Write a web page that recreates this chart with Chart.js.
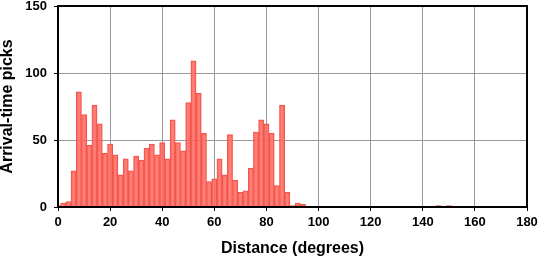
<!DOCTYPE html>
<html><head><meta charset="utf-8">
<script src="https://cdn.jsdelivr.net/npm/chart.js@4.4.1/dist/chart.umd.min.js"></script>
<style>html,body{margin:0;padding:0;background:#fff}#wrap{width:539px;height:258px}</style>
</head><body><div id="wrap"><canvas id="c" width="539" height="258"></canvas></div>
<script>
// bin centres (degrees, 2-degree bins) and arrival-time pick counts
const binCenters = [0,2,4,6,8,10,12,14,16,18,20,22,24,26,28,30,32,34,36,38,40,42,44,46,48,
  50,52,54,56,58,60,62,64,66,68,70,72,74,76,78,80,82,84,86,88,90,92,94,146,150];
const counts = [1,3,4,27,86,69,46,76,62,40,47,39,24,36,27,38,35,44,47,39,48,36,65,48,42,
  78,109,85,55,19,21,36,24,54,20,11,12,29,56,65,62,55,16,76,11,1,3,2,1,1];
const xTickValues = [0,20,40,60,80,100,120,140,160,180];
const yTickValues = [0,50,100,150];
const xTitle = 'Distance (degrees)';
const yTitle = 'Arrival-time picks';

const FONT = "'Liberation Sans', Arial, Helvetica, sans-serif";
const points = binCenters.map((c, i) => ({x: c, y: counts[i]}));

const framePlugin = {
  id: 'frame',
  afterDraw(chart) {
    const a = chart.chartArea, ctx = chart.ctx;
    ctx.save();
    ctx.strokeStyle = '#000';
    ctx.lineWidth = 2;
    ctx.strokeRect(a.left, a.top, a.right - a.left, a.bottom - a.top);
    ctx.restore();
  }
};

new Chart(document.getElementById('c'), {
  type: 'bar',
  data: {
    datasets: [{
      data: points,
      backgroundColor: 'rgba(255,105,95,0.85)',
      borderColor: 'rgb(240,85,75)',
      borderWidth: 1,
      barPercentage: 1,
      categoryPercentage: 1,
      clip: 0
    }]
  },
  options: {
    responsive: false,
    devicePixelRatio: 1,
    animation: false,
    layout: {padding: {left: 0, right: 12, top: 6, bottom: 0}},
    plugins: {legend: {display: false}, tooltip: {enabled: false}},
    scales: {
      x: {
        type: 'linear',
        min: 0, max: 180,
        offset: false,
        afterBuildTicks(s) { s.ticks = xTickValues.map(v => ({value: v})); },
        afterFit(s) { s.height = 51; s.paddingLeft = 0; s.paddingRight = 0; },
        ticks: {color: '#000', font: {family: FONT, size: 13, weight: 'bold'}, padding: 4, maxRotation: 0},
        grid: {offset: false, color: '#9a9a9a', lineWidth: 1, tickLength: 4, tickColor: '#000'},
        border: {color: '#000', width: 2},
        title: {display: true, text: xTitle, color: '#000',
          font: {family: FONT, size: 16, weight: 'bold', lineHeight: 1.2}, padding: {top: 0, bottom: 0}}
      },
      y: {
        min: 0, max: 150,
        afterBuildTicks(s) { s.ticks = yTickValues.map(v => ({value: v})); },
        afterFit(s) { s.width = 58; s.paddingTop = 0; s.paddingBottom = 0; },
        ticks: {color: '#000', font: {family: FONT, size: 13, weight: 'bold'}, padding: 7},
        grid: {color: '#9a9a9a', lineWidth: 1, tickLength: 4, tickColor: '#000'},
        border: {color: '#000', width: 2},
        title: {display: true, text: yTitle, color: '#000',
          font: {family: FONT, size: 16, weight: 'bold', lineHeight: 1}, padding: {top: 0, bottom: 0}}
      }
    }
  },
  plugins: [framePlugin]
});
</script></body></html>
